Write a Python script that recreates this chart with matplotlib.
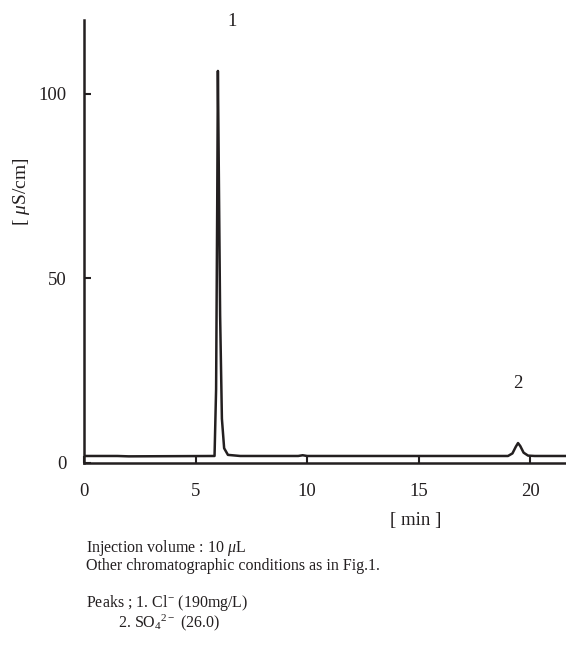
import matplotlib.pyplot as plt

plt.rcParams['font.family'] = ['Liberation Serif', 'DejaVu Serif']
plt.rcParams['mathtext.fontset'] = 'custom'
plt.rcParams['mathtext.rm'] = 'Liberation Serif'
plt.rcParams['mathtext.it'] = 'Liberation Serif:italic'

# chromatogram trace (time in min, conductivity in uS/cm)
time = [0, 1.5, 2.0, 5.85, 5.92, 5.97, 6.00, 6.04, 6.10, 6.18, 6.28, 6.45, 7.0,
        9.6, 9.8, 10.0, 19.0, 19.2, 19.35, 19.45, 19.55, 19.7, 19.9, 20.2, 21.6]
signal = [1.9, 1.9, 1.8, 1.9, 20, 70, 106.2, 80, 40, 12, 4, 2.2, 1.9,
          1.9, 2.1, 1.9, 1.9, 2.6, 4.4, 5.4, 4.6, 2.8, 2.0, 1.9, 1.9]

peak_labels = ['1', '2']
peak_pos = [(6.62, 119.7), (19.45, 21.6)]

xticks = [0, 5, 10, 15, 20]
yticks = [0, 50, 100]

ink = '#231f20'

fig = plt.figure(figsize=(5.66, 6.49), dpi=100)
ax = fig.add_axes([0.1484, 0.2866, 0.8516, 0.6826])
ax.plot(time, signal, color=ink, lw=1.8, solid_joinstyle='round')

ax.set_xlim(0, 21.6)
ax.set_ylim(0, 120)
ax.set_xticks(xticks)
ax.set_yticks(yticks)
ax.tick_params(direction='in', length=5, width=1.5, colors=ink, labelsize=13.5,
               labelcolor=ink)
ax.tick_params(axis='x', pad=14.5)
ax.tick_params(axis='y', pad=12.5)
for s in ['top', 'right']:
    ax.spines[s].set_visible(False)
for s in ['left', 'bottom']:
    ax.spines[s].set_linewidth(1.8)
    ax.spines[s].set_color(ink)

for lab, (x, y) in zip(peak_labels, peak_pos):
    ax.text(x, y, lab, ha='center', va='center', fontsize=13.5, color=ink,
            clip_on=False)

fig.text(416 / 566, 1 - 520 / 649, '[ min ]', ha='center', va='center',
         fontsize=13.5, color=ink)
fig.text(22 / 566, 1 - 192 / 649, '[ $\\mu$S/cm]', rotation=90, ha='center',
         va='center', fontsize=14, color=ink)

fig.text(86 / 566, 1 - 548 / 649, 'Injection volume : 10 $\\mu$L',
         ha='left', va='center', fontsize=11.5, color=ink)
fig.text(86 / 566, 1 - 566 / 649, 'Other chromatographic conditions as in Fig.1.',
         ha='left', va='center', fontsize=11.5, color=ink)
fig.text(86 / 566, 1 - 613 / 649,
         'Peaks ; 1. Cl$^{-}$ (190mg/L)\n'
         '        2. SO$_4{}^{2-}$ (26.0)',
         ha='left', va='center', fontsize=11.5, color=ink, linespacing=1.0)

fig.savefig('out.png', dpi=100)
